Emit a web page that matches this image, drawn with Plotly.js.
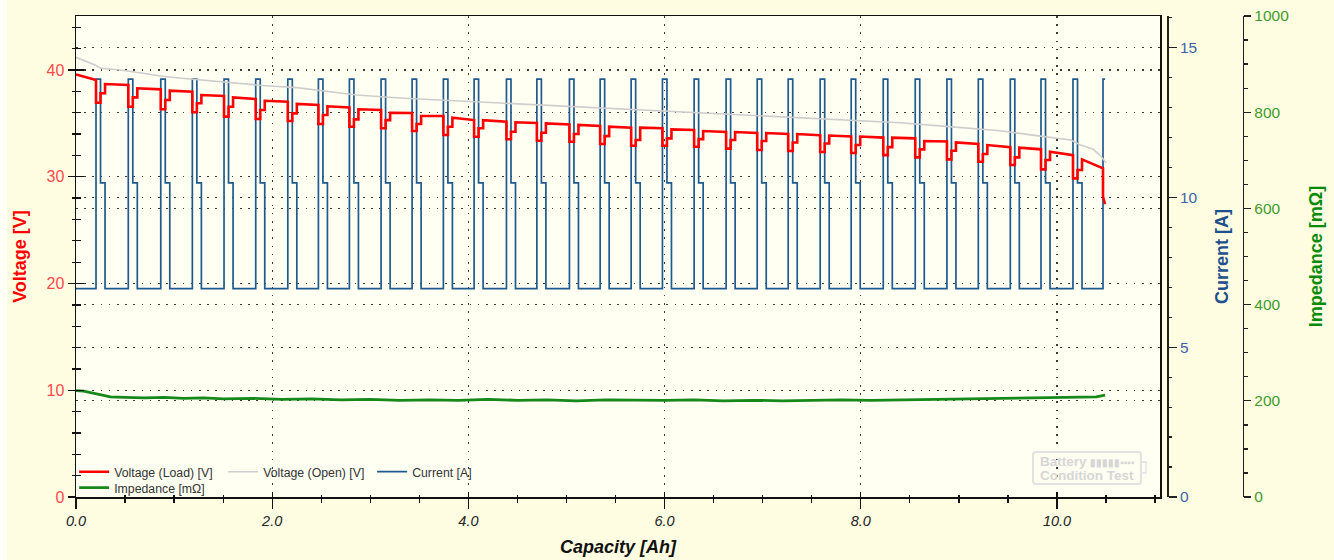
<!DOCTYPE html>
<html><head><meta charset="utf-8">
<script src="https://cdn.plot.ly/plotly-3.0.1.min.js"></script>
<style>html,body{margin:0;padding:0;background:#fffde1;} #chart{width:1334px;height:560px;}</style>
</head><body><div id="chart"></div>
<script>
// ---------- data ----------
// current pulse timing [Ah]
const pulseStart = [0.204, 0.533, 0.864, 1.186, 1.509, 1.832, 2.159, 2.471, 2.787, 3.110, 3.426, 3.745, 4.058, 4.388, 4.698, 5.030, 5.343, 5.659, 5.978, 6.301, 6.627, 6.944, 7.260, 7.586, 7.902, 8.229, 8.555, 8.878, 9.198, 9.524, 9.837, 10.163, 10.469];
const highEnd = [0.250, 0.579, 0.910, 1.232, 1.555, 1.878, 2.205, 2.517, 2.833, 3.156, 3.472, 3.791, 4.104, 4.434, 4.744, 5.076, 5.389, 5.705, 6.024, 6.347, 6.673, 6.990, 7.306, 7.632, 7.948, 8.275, 8.601, 8.924, 9.244, 9.570, 9.883, 10.209];
const midEnd = [0.296, 0.625, 0.956, 1.278, 1.601, 1.924, 2.251, 2.563, 2.879, 3.202, 3.518, 3.837, 4.150, 4.480, 4.790, 5.122, 5.435, 5.751, 6.070, 6.393, 6.719, 7.036, 7.352, 7.678, 7.994, 8.321, 8.647, 8.970, 9.290, 9.616, 9.929, 10.255];
const dataEnd = 10.49;
const currentLow = 6.96, currentMid = 10.49, currentHigh = 13.95;   // [A]

// loaded voltage [V]
const vStart = 39.58;
const vPre  = [39.06, 38.60, 38.19, 37.97, 37.56, 37.28, 37.03, 36.72, 36.50, 36.25, 35.97, 35.69, 35.31, 35.16, 35.03, 34.89, 34.75, 34.60, 34.54, 34.38, 34.19, 34.10, 34.00, 33.90, 33.77, 33.67, 33.60, 33.30, 33.07, 32.76, 32.57, 32.03, 30.79];
const vDip  = [36.94, 36.56, 36.32, 36.04, 35.63, 35.41, 35.22, 34.94, 34.69, 34.54, 34.28, 33.91, 33.75, 33.51, 33.37, 33.28, 33.07, 32.90, 32.90, 32.81, 32.64, 32.50, 32.41, 32.32, 32.22, 32.03, 31.82, 31.63, 31.41, 31.10, 30.69, 29.85];
const vMid  = [37.82, 37.44, 37.19, 36.88, 36.56, 36.25, 35.94, 35.78, 35.38, 35.31, 34.94, 34.69, 34.54, 34.22, 34.12, 34.00, 33.81, 33.44, 33.60, 33.53, 33.44, 33.35, 33.21, 33.11, 32.97, 32.78, 32.57, 32.44, 32.13, 31.82, 31.57, 30.63];
const vPost = [38.69, 38.29, 38.06, 37.66, 37.44, 37.12, 36.82, 36.60, 36.32, 36.00, 35.69, 35.53, 35.31, 35.10, 35.00, 34.85, 34.69, 34.60, 34.44, 34.28, 34.19, 34.10, 34.00, 33.86, 33.77, 33.67, 33.35, 33.22, 32.97, 32.72, 32.34, 31.63];
const vFinal = [28.12, 27.43];

// open-circuit voltage [V]
const openX = [0, 0.1, 0.2, 0.25, 0.45, 0.65, 0.86, 1.05, 1.26, 1.54, 1.9, 2.25, 2.55, 2.86, 3.3, 3.8, 4.32, 4.85, 5.34, 5.85, 6.36, 6.9, 7.4, 7.9, 8.4, 8.9, 9.42, 9.83, 10.14, 10.24, 10.37, 10.45, 10.50];
const openV = [41.19, 40.85, 40.45, 40.16, 40.0, 39.75, 39.44, 39.25, 39.06, 38.81, 38.55, 38.35, 38.0, 37.66, 37.38, 37.15, 36.94, 36.70, 36.47, 36.20, 35.94, 35.70, 35.50, 35.30, 35.06, 34.70, 34.31, 33.81, 33.44, 32.97, 32.57, 31.90, 31.30];

// impedance [mOhm]
const impX = [0, 0.08, 0.15, 0.25, 0.35, 0.5, 0.7, 0.9, 1.1, 1.3, 1.5, 1.8, 2.1, 2.4, 2.7, 3.0, 3.3, 3.6, 3.9, 4.2, 4.5, 4.8, 5.1, 5.4, 5.7, 6.0, 6.3, 6.6, 6.9, 7.2, 7.5, 7.8, 8.1, 8.4, 8.7, 9.0, 9.3, 9.6, 9.9, 10.2, 10.4, 10.49];
const impV = [221, 220, 217, 212, 208, 207, 206, 207, 205, 206, 204, 205, 203, 204, 202, 203, 201, 202, 201, 203, 201, 202, 200, 202, 201, 201, 202, 200, 201, 200, 201, 202, 201, 202, 203, 203, 204, 205, 206, 207, 208, 212];

// tick labels
const xTicks = [0, 2, 4, 6, 8, 10];
const xTickText = ['0.0', '2.0', '4.0', '6.0', '8.0', '10.0'];

// ---------- build step series ----------
const cx = [0], cy = [currentLow];
for (let i = 0; i < pulseStart.length; i++) {
  const s = pulseStart[i];
  cx.push(s, s); cy.push(currentLow, currentHigh);
  if (i < highEnd.length) {
    cx.push(highEnd[i], highEnd[i], midEnd[i], midEnd[i]);
    cy.push(currentHigh, currentMid, currentMid, currentLow);
  } else {
    cx.push(dataEnd); cy.push(currentHigh);
  }
}
const vx = [0], vy = [vStart];
for (let i = 0; i < pulseStart.length; i++) {
  const s = pulseStart[i];
  if (i < vDip.length) {
    vx.push(s, s, highEnd[i], highEnd[i], midEnd[i], midEnd[i]);
    vy.push(vPre[i], vDip[i], vDip[i], vMid[i], vMid[i], vPost[i]);
  } else {
    vx.push(s, s, dataEnd);
    vy.push(vPre[i], vFinal[0], vFinal[1]);
  }
}

// ---------- layout geometry ----------
const W = 1334, H = 560, ML = 76, MR = 10, MT = 16, MB = 63;
const PW = W - ML - MR, PH = H - MT - MB;
const fx = p => (p - ML) / PW, fy = p => (H - MB - p) / PH;
const FONT = 'Liberation Sans, Arial, sans-serif';
const GRID = {showgrid: true, gridcolor: '#3a3a3a', gridwidth: 1.3, griddash: '1.5px,6.7px'};

const traces = [
  {x: [null], y: [null], xaxis: 'x', yaxis: 'y', showlegend: false, hoverinfo: 'skip', mode: 'lines'},
  {x: [null], y: [null], xaxis: 'x2', yaxis: 'y', showlegend: false, hoverinfo: 'skip', mode: 'lines'},
  {x: cx, y: cy, name: 'Current [A]', xaxis: 'x', yaxis: 'y2', mode: 'lines', line: {color: '#1f5a8e', width: 1.7}, legend: 'legend', legendrank: 3},
  {x: impX, y: impV, name: 'Impedance [mΩ]', xaxis: 'x', yaxis: 'y3', mode: 'lines', line: {color: '#17881a', width: 2.8}, legend: 'legend2'},
  {x: openX, y: openV, name: 'Voltage (Open) [V]', xaxis: 'x', yaxis: 'y4', mode: 'lines', line: {color: '#cdcdcd', width: 1.6}, legend: 'legend', legendrank: 2},
  {x: vx, y: vy, name: 'Voltage (Load) [V]', xaxis: 'x', yaxis: 'y4', mode: 'lines', line: {color: '#ff0000', width: 2.6}, legend: 'legend', legendrank: 1}
];

const xRange = [0, 11.05];
const vRange = [0, 45.06];
const legendCommon = {orientation: 'h', xanchor: 'left', yanchor: 'middle', bgcolor: 'rgba(0,0,0,0)', borderwidth: 0,
  font: {family: FONT, size: 12.3, color: '#333'}, itemwidth: 30, entrywidth: 104, traceorder: 'normal'};

const layout = {
  width: W, height: H,
  margin: {l: ML, r: MR, t: MT, b: MB, pad: 0},
  paper_bgcolor: '#fffde1', plot_bgcolor: '#fffff2',
  font: {family: FONT},
  showlegend: true,
  hovermode: false,
  legend: Object.assign({}, legendCommon, {x: -0.0015, y: fy(471.7)}),
  legend2: Object.assign({}, legendCommon, {x: -0.0015, y: fy(487.7)}),
  xaxis: Object.assign({
    domain: [0, fx(1160)], range: xRange, tickmode: 'array', tickvals: xTicks, ticktext: xTickText,
    ticks: 'outside', ticklen: 10, tickwidth: 1.4, tickcolor: '#111',
    showline: true, linecolor: '#111', linewidth: 1.5, mirror: true, zeroline: false,
    minor: {tickmode: 'linear', tick0: 0, dtick: 0.5, ticks: 'outside', ticklen: 4.3, tickwidth: 1.3, tickcolor: '#111', showgrid: false},
    tickfont: {family: FONT, size: 14.5, color: '#222', style: 'italic'},
    title: {text: 'Capacity [Ah]', font: {family: FONT, size: 18, color: '#111', weight: 'bold', style: 'italic'}, standoff: 12}
  }, GRID),
  xaxis2: {overlaying: 'x', anchor: 'y', range: xRange, tickmode: 'array', tickvals: xTicks,
    ticks: 'inside', ticklen: 5, tickwidth: 1.4, tickcolor: '#111', showticklabels: false,
    minor: {tickmode: 'linear', tick0: 0, dtick: 0.5, ticks: 'inside', ticklen: 2.4, tickwidth: 1.3, tickcolor: '#111', showgrid: false},
    showgrid: false, showline: false, zeroline: false},
  yaxis: Object.assign({
    range: vRange, dtick: 10, tick0: 0, ticks: 'outside', ticklen: 7, tickwidth: 1.4, tickcolor: '#111',
    showline: true, linecolor: '#111', linewidth: 1.5, mirror: true, zeroline: false,
    minor: {dtick: 2, ticks: 'outside', ticklen: 2.5, tickwidth: 1.3, tickcolor: '#111', showgrid: false},
    tickfont: {family: FONT, size: 16, color: '#ff4a4a'},
    title: {text: 'Voltage [V]', font: {family: FONT, size: 18, color: '#ff0000', weight: 'bold'}, standoff: 15}
  }, GRID),
  yaxis4: {overlaying: 'y', anchor: 'x', side: 'left', range: vRange, dtick: 10, tick0: 0,
    ticks: 'inside', ticklen: 8, tickwidth: 1.4, tickcolor: '#111', showticklabels: false,
    minor: {dtick: 2, ticks: 'inside', ticklen: 5, tickwidth: 1.3, tickcolor: '#111', showgrid: false},
    showgrid: false, showline: false, zeroline: false},
  yaxis2: Object.assign({
    overlaying: 'y', side: 'right', anchor: 'free', position: fx(1167.3),
    range: [0, 16.06], dtick: 5, tick0: 0, ticks: 'outside', ticklen: 8, tickwidth: 1.4, tickcolor: '#222',
    showline: true, linecolor: '#222', linewidth: 1.5, zeroline: false,
    minor: {dtick: 1, ticks: 'outside', ticklen: 3.5, tickwidth: 1.3, tickcolor: '#222', showgrid: false},
    tickfont: {family: FONT, size: 15.5, color: '#3c64a8'},
    title: {text: 'Current [A]', font: {family: FONT, size: 18, color: '#1f4e8c', weight: 'bold'}, standoff: 19}
  }, GRID),
  yaxis3: Object.assign({
    overlaying: 'y', side: 'right', anchor: 'free', position: fx(1242.7),
    range: [0, 1000], dtick: 200, tick0: 0, ticks: 'outside', ticklen: 7, tickwidth: 1.4, tickcolor: '#222',
    showline: true, linecolor: '#222', linewidth: 1.5, zeroline: false,
    minor: {dtick: 50, ticks: 'outside', ticklen: 3.5, tickwidth: 1.3, tickcolor: '#222', showgrid: false},
    tickfont: {family: FONT, size: 15.5, color: '#3f9a2a'},
    title: {text: 'Impedance [mΩ]', font: {family: FONT, size: 18, color: '#0a8a0a', weight: 'bold'}, standoff: 21}
  }, GRID),
  shapes: [
    {type: 'rect', xref: 'paper', yref: 'paper', x0: fx(0), x1: fx(7), y0: fy(560), y1: fy(0), fillcolor: '#fffff6', line: {width: 0}, layer: 'below'},
    {type: 'path', xref: 'paper', yref: 'paper', layer: 'above', line: {color: '#e2e2e2', width: 2},
      path: `M ${fx(1036)} ${fy(452)} L ${fx(1138)} ${fy(452)} Q ${fx(1141)} ${fy(452)} ${fx(1141)} ${fy(455)} L ${fx(1141)} ${fy(481)} Q ${fx(1141)} ${fy(484)} ${fx(1138)} ${fy(484)} L ${fx(1036)} ${fy(484)} Q ${fx(1033)} ${fy(484)} ${fx(1033)} ${fy(481)} L ${fx(1033)} ${fy(455)} Q ${fx(1033)} ${fy(452)} ${fx(1036)} ${fy(452)} Z`},
    {type: 'rect', xref: 'paper', yref: 'paper', layer: 'above', x0: fx(1141), x1: fx(1146), y0: fy(473), y1: fy(462), line: {color: '#e2e2e2', width: 1.5}}
  ],
  annotations: [
    {xref: 'paper', yref: 'paper', x: fx(1038), y: fy(462), xanchor: 'left', yanchor: 'middle', showarrow: false,
      text: 'Battery <span style="font-size:10px">▮▮▮▮▮▪▪▪▪</span>', font: {family: FONT, size: 13.5, color: '#d6d6d6', weight: 'bold'}},
    {xref: 'paper', yref: 'paper', x: fx(1038), y: fy(475), xanchor: 'left', yanchor: 'middle', showarrow: false,
      text: 'Condition Test', font: {family: FONT, size: 13.5, color: '#d6d6d6', weight: 'bold'}}
  ]
};

Plotly.newPlot('chart', traces, layout, {staticPlot: true, displayModeBar: false});
</script></body></html>
